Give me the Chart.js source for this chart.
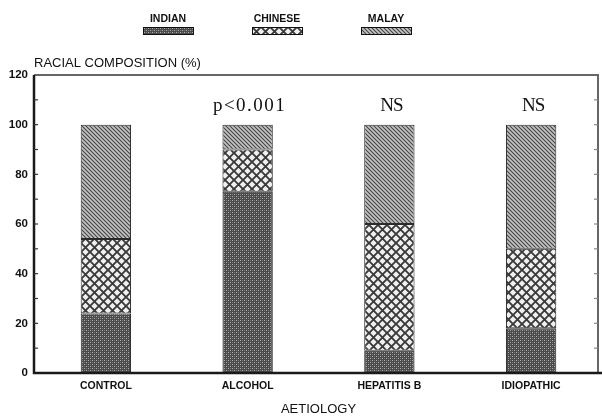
<!DOCTYPE html>
<html><head><meta charset="utf-8">
<script src="https://cdn.jsdelivr.net/npm/chart.js@4/dist/chart.umd.min.js"></script>
<style>html,body{margin:0;padding:0;background:#fff}#wrap{width:602px;height:417px}</style>
</head><body><div id="wrap"><canvas id="c" width="602" height="417"></canvas></div>
<script>
const categories = ['CONTROL', 'ALCOHOL', 'HEPATITIS B', 'IDIOPATHIC'];
const indian  = [24, 73, 9, 18];
const chinese = [30, 17, 51, 32];
const malay   = [46, 10, 40, 50];
const seriesNames = ['INDIAN', 'CHINESE', 'MALAY'];
const significance = ['', 'p<0.001', 'NS', 'NS'];
const yTicks = [0, 20, 40, 60, 80, 100, 120];
const yTitle = 'RACIAL COMPOSITION (%)';
const xTitle = 'AETIOLOGY';

function makePattern(kind) {
  const t = document.createElement('canvas');
  const g = t.getContext('2d');
  if (kind === 'indian') {
    t.width = 4; t.height = 4;
    g.fillStyle = '#4a4a4a'; g.fillRect(0, 0, 4, 4);
    g.fillStyle = '#b0b0b0';
    g.fillRect(0, 0, 1, 1); g.fillRect(2, 2, 1, 1);
    g.fillStyle = '#7a7a7a';
    g.fillRect(2, 0, 1, 1); g.fillRect(0, 2, 1, 1);
  } else if (kind === 'chinese') {
    t.width = 9; t.height = 9;
    g.fillStyle = '#f0f0f0'; g.fillRect(0, 0, 9, 9);
    g.strokeStyle = '#3a3a3a'; g.lineWidth = 1.9;
    g.beginPath();
    g.moveTo(-1, -1); g.lineTo(10, 10);
    g.moveTo(-1, 10); g.lineTo(10, -1);
    g.stroke();
  } else {
    t.width = 4; t.height = 4;
    g.fillStyle = '#c4c4c4'; g.fillRect(0, 0, 4, 4);
    g.strokeStyle = '#444'; g.lineWidth = 1.1;
    g.beginPath();
    g.moveTo(-1, -1); g.lineTo(5, 5);
    g.moveTo(-1, 3); g.lineTo(1, 5);
    g.moveTo(3, -1); g.lineTo(5, 1);
    g.stroke();
  }
  return document.getElementById('c').getContext('2d').createPattern(t, 'repeat');
}
const patterns = [makePattern('indian'), makePattern('chinese'), makePattern('malay')];

const decor = {
  id: 'decor',
  afterDraw(chart) {
    const ctx = chart.ctx;
    const a = chart.chartArea;
    const ys = chart.scales.y, xs = chart.scales.x;
    const L = a.left - 1, R = a.right - 4;
    ctx.save();
    // frame
    ctx.strokeStyle = '#666'; ctx.lineWidth = 2;
    ctx.beginPath();
    ctx.moveTo(L, a.top); ctx.lineTo(R, a.top); ctx.lineTo(R, a.bottom);
    ctx.stroke();
    ctx.strokeStyle = '#1a1a1a'; ctx.lineWidth = 2.5;
    ctx.beginPath();
    ctx.moveTo(L, a.top); ctx.lineTo(L, a.bottom); ctx.lineTo(a.right, a.bottom);
    ctx.stroke();
    // inner ticks every 10
    ctx.lineWidth = 1.2;
    for (let v = 10; v < 120; v += 10) {
      const py = ys.getPixelForValue(v);
      ctx.strokeStyle = '#333';
      ctx.beginPath(); ctx.moveTo(L, py); ctx.lineTo(L + 4, py); ctx.stroke();
      ctx.strokeStyle = '#888';
      ctx.beginPath(); ctx.moveTo(R, py); ctx.lineTo(R - 4, py); ctx.stroke();
    }
    // y title
    ctx.fillStyle = '#111';
    ctx.font = '13px "Liberation Sans", Arial, sans-serif';
    ctx.textAlign = 'left'; ctx.textBaseline = 'alphabetic';
    ctx.fillText(yTitle, L, a.top - 8);
    // significance labels
    ctx.font = '19px "Liberation Serif", "DejaVu Serif", serif';
    ctx.textAlign = 'center'; ctx.textBaseline = 'middle';
    significance.forEach((s, i) => {
      if (!s) return;
      const px = xs.getPixelForValue(i) + 2;
      const py = ys.getPixelForValue(107.5);
      ctx.letterSpacing = s.length > 3 ? '1.5px' : '-1px';
      ctx.fillText(s, px, py);
    });
    ctx.letterSpacing = '0px';
    // legend
    ctx.font = 'bold 10.5px "Liberation Sans", Arial, sans-serif';
    ctx.textAlign = 'center'; ctx.textBaseline = 'alphabetic';
    chart.data.datasets.forEach((ds, i) => {
      const cx = 168 + i * 109;
      ctx.fillStyle = '#111';
      ctx.fillText(ds.label, cx, 22);
      ctx.fillStyle = ds.backgroundColor;
      ctx.fillRect(cx - 25, 27, 50, 7);
      ctx.strokeStyle = '#111'; ctx.lineWidth = 1;
      ctx.strokeRect(cx - 25 + 0.5, 27 + 0.5, 50, 7);
    });
    ctx.restore();
  }
};

const seriesValues = [indian, chinese, malay];
new Chart(document.getElementById('c'), {
  type: 'bar',
  data: {
    labels: categories,
    datasets: seriesNames.map((n, i) => ({
      label: n,
      data: seriesValues[i],
      backgroundColor: patterns[i],
      borderColor: '#2a2a2a',
      borderWidth: 1,
      borderSkipped: false,
      categoryPercentage: 1,
      barPercentage: 0.355
    }))
  },
  options: {
    responsive: false,
    animation: false,
    events: [],
    layout: { padding: { top: 75, right: 0, left: 0, bottom: 0 } },
    plugins: { legend: { display: false }, title: { display: false }, tooltip: { enabled: false } },
    scales: {
      x: {
        stacked: true,
        grid: { display: false, drawTicks: false },
        border: { display: false },
        ticks: { color: '#111', padding: 7, font: { family: '"Liberation Sans", Arial, sans-serif', size: 10.5, weight: 'bold' } },
        title: { display: true, text: xTitle, color: '#111', padding: { top: 10, bottom: 0 }, font: { family: '"Liberation Sans", Arial, sans-serif', size: 13 } },
        afterFit(s) { s.height = 44; }
      },
      y: {
        stacked: true,
        min: 0, max: 120,
        afterBuildTicks(s) { s.ticks = yTicks.map(v => ({ value: v })); },
        grid: { display: false, drawTicks: false },
        border: { display: false },
        ticks: { color: '#111', padding: 7, font: { family: '"Liberation Sans", Arial, sans-serif', size: 11.5, weight: 'bold' } },
        afterFit(s) { s.width = 35; }
      }
    }
  },
  plugins: [decor]
});
</script>
</body></html>
